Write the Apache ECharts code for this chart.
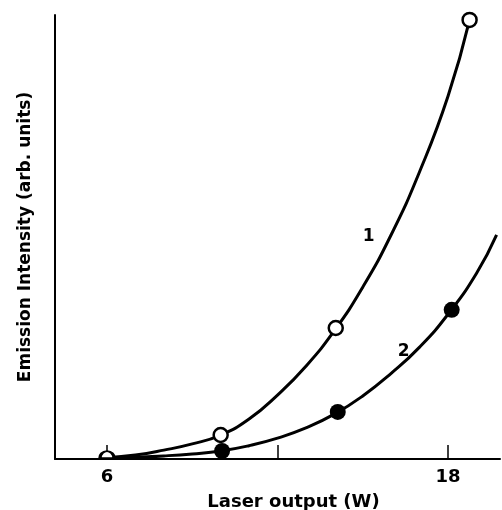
<!DOCTYPE html>
<html>
<head>
<meta charset="utf-8">
<script src="https://cdn.jsdelivr.net/npm/echarts@6/dist/echarts.min.js"></script>
<style>html,body{margin:0;padding:0;background:#fff;}#c{width:502px;height:510px;}</style>
</head>
<body>
<div id="c"></div>
<script>
// Measured data points (laser output W, emission intensity arb. units)
const curve1PointsX = [6, 10.0, 14.05, 18.76];
const curve1PointsY = [0.3, 5.4, 29.5, 98.9];
const curve2PointsX = [10.05, 14.12, 18.13];
const curve2PointsY = [1.8, 10.6, 33.6];
// Fitted curves
const curve1LineX = [6, 7, 8, 9, 10, 11, 12, 13, 14, 15, 16, 17, 18, 18.76];
const curve1LineY = [0.3, 0.9, 2.0, 3.4, 5.4, 9.0, 14.4, 20.9, 28.9, 38.7, 50.5, 64.7, 81.7, 98.9];
const curve2LineX = [6, 7, 8, 9, 10, 11, 12, 13, 14, 15, 16, 17, 18, 19, 19.71];
const curve2LineY = [0.2, 0.4, 0.7, 1.15, 1.8, 3.0, 4.7, 7.0, 10.1, 14.2, 19.3, 25.2, 32.6, 41.8, 50.5];
const xTicks = [6, 12, 18];
const xTickLabels = [6, 18];
const curveLabels = ['1', '2'];

const zip = (a, b) => a.map((v, i) => [v, b[i]]);
const font = 'DejaVu Sans';
// first open point sits on the axis: only its upper half shows
const openPts = zip(curve1PointsX, curve1PointsY).map((p, i) => i === 0 ?
  {value: p, symbol: 'path://M0,10 A10,10 0 0 1 20,10 Z', symbolSize: [14, 7], symbolOffset: [0, -3]} : p);
const chart = echarts.init(document.getElementById('c'));
chart.setOption({
  animation: false,
  backgroundColor: '#fff',
  grid: {left: 55, right: 2, top: 15, bottom: 51, containLabel: false, outerBoundsMode: 'none'},
  xAxis: {
    type: 'value', min: 4.17, max: 19.83,
    name: 'Laser output (W)', nameLocation: 'middle', nameGap: 34,
    nameTextStyle: {color: '#000', fontSize: 18, fontFamily: font, fontWeight: 'bold', padding: [0, 0, 0, 32]},
    axisLine: {show: true, onZero: false, lineStyle: {color: '#000', width: 2}},
    axisTick: {show: true, inside: true, length: 14, customValues: xTicks, lineStyle: {color: '#000', width: 1.5}},
    axisLabel: {show: true, customValues: xTickLabels, color: '#000', fontSize: 18, fontWeight: 'bold', fontFamily: font, margin: 9},
    splitLine: {show: false}
  },
  yAxis: {
    type: 'value', min: 0, max: 100,
    name: 'Emission Intensity (arb. units)', nameLocation: 'middle', nameGap: 21, nameRotate: 90,
    nameTextStyle: {color: '#000', fontSize: 17, fontFamily: font, fontWeight: 'bold'},
    axisLine: {show: true, onZero: false, lineStyle: {color: '#000', width: 2}},
    axisTick: {show: false}, axisLabel: {show: false}, splitLine: {show: false}
  },
  series: [
    {type: 'line', data: zip(curve1LineX, curve1LineY), smooth: 0.5, showSymbol: false, symbol: 'none',
     lineStyle: {color: '#000', width: 3}, z: 2,
     markPoint: {symbol: 'circle', symbolSize: 0, data: [{coord: [15.21, 50], value: curveLabels[0]}],
       label: {show: true, formatter: curveLabels[0], color: '#000', fontSize: 17, fontWeight: 'bold', fontFamily: font}}},
    {type: 'line', data: zip(curve2LineX, curve2LineY), smooth: 0.5, showSymbol: false, symbol: 'none',
     lineStyle: {color: '#000', width: 3}, z: 2,
     markPoint: {symbol: 'circle', symbolSize: 0, data: [{coord: [16.44, 24.2], value: curveLabels[1]}],
       label: {show: true, formatter: curveLabels[1], color: '#000', fontSize: 17, fontWeight: 'bold', fontFamily: font}}},
    {type: 'scatter', data: zip(curve2PointsX, curve2PointsY), symbol: 'circle', symbolSize: 16,
     itemStyle: {color: '#000', opacity: 1}, z: 3},
    {type: 'scatter', data: openPts, symbol: 'circle', symbolSize: 14,
     itemStyle: {color: '#fff', borderColor: '#000', borderWidth: 2.5, opacity: 1}, z: 4}
  ]
});
</script>
</body>
</html>
